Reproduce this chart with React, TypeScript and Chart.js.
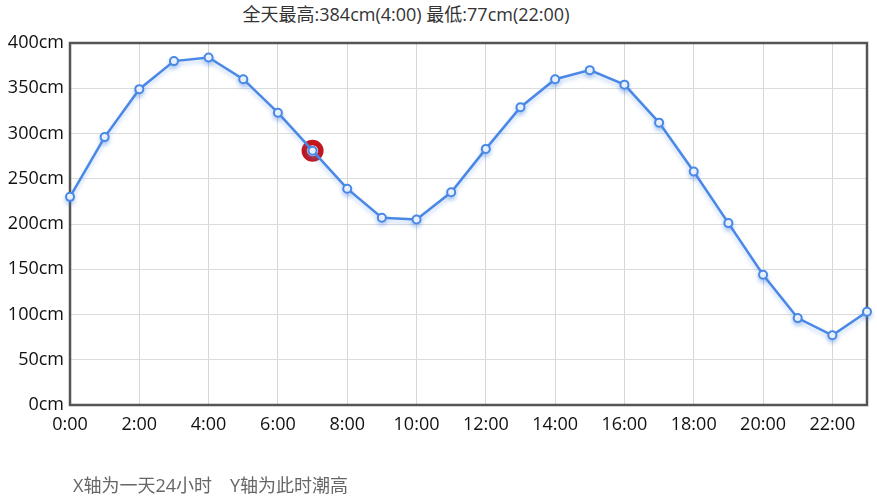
import React, { useEffect, useRef } from "react";
import { Chart, registerables } from "chart.js";

Chart.register(...registerables);

const hours: string[] = [
  "0:00", "1:00", "2:00", "3:00", "4:00", "5:00", "6:00", "7:00", "8:00", "9:00", "10:00", "11:00",
  "12:00", "13:00", "14:00", "15:00", "16:00", "17:00", "18:00", "19:00", "20:00", "21:00", "22:00", "23:00",
];
const tideHeights: number[] = [
  230, 296, 349, 380, 384, 360, 323, 281, 239, 207, 205, 235,
  283, 329, 360, 370, 354, 312, 258, 201, 144, 96, 77, 103,
];
const currentIndex = 7;
const yMin = 0;
const yMax = 400;
const yStep = 50;
const titleText = "全天最高:384cm(4:00) 最低:77cm(22:00)";
const footerText = "X轴为一天24小时　Y轴为此时潮高";

const FONT = "'Open Sans', 'Noto Sans CJK SC', sans-serif";
const LINE_BLUE = "#4a88e6";

const framePlugin = {
  id: "frame",
  beforeDatasetsDraw(chart: any) {
    const { ctx, chartArea } = chart;
    ctx.save();
    ctx.strokeStyle = "#555555";
    ctx.lineWidth = 2.5;
    ctx.strokeRect(chartArea.left, chartArea.top, chartArea.right - chartArea.left, chartArea.bottom - chartArea.top);
    ctx.restore();
  },
};

const shadowPlugin = {
  id: "lineShadow",
  beforeDatasetDraw(chart: any, args: any) {
    if (args.index !== 0) return;
    const ctx = chart.ctx;
    ctx.save();
    ctx.shadowColor = "rgba(74,136,230,0.35)";
    ctx.shadowBlur = 4;
    ctx.shadowOffsetY = 3;
  },
  afterDatasetDraw(chart: any, args: any) {
    if (args.index !== 0) return;
    chart.ctx.restore();
  },
};

export default function App() {
  const ref = useRef<HTMLCanvasElement | null>(null);

  useEffect(() => {
    if (!ref.current) return;
    const chart = new Chart(ref.current, {
      type: "line",
      data: {
        labels: hours,
        datasets: [
          {
            data: tideHeights,
            borderColor: LINE_BLUE,
            borderWidth: 2.5,
            pointRadius: 4,
            pointBorderWidth: 2,
            pointBorderColor: LINE_BLUE,
            pointBackgroundColor: "#ffffff",
            tension: 0,
            clip: false as any,
          },
          {
            data: tideHeights.map((v, i) => (i === currentIndex ? v : null)),
            showLine: false,
            pointRadius: 8.25,
            pointBorderWidth: 5.5,
            pointBorderColor: "#c3161d",
            pointBackgroundColor: "#ffffff",
            clip: false as any,
          },
        ],
      },
      options: {
        animation: false,
        responsive: false,
        devicePixelRatio: 1,
        layout: { autoPadding: false, padding: { top: 43, right: 10, left: 0, bottom: 65 } },
        plugins: {
          legend: { display: false },
          tooltip: { enabled: false },
          title: { display: false },
        },
        scales: {
          x: {
            offset: false,
            grid: { color: "#d6d6d6", lineWidth: 1, drawTicks: false },
            border: { display: false },
            ticks: {
              autoSkip: false,
              maxRotation: 0,
              padding: 9,
              color: "#111111",
              font: { family: FONT, size: 18 },
              callback: (_v: any, i: number) => (i % 2 === 0 ? hours[i] : null),
            },
            afterFit: (s: any) => {
              s.height = 30;
              s.paddingLeft = 0;
              s.paddingRight = 0;
            },
          },
          y: {
            min: yMin,
            max: yMax,
            grid: { color: "#dcdcdc", lineWidth: 1, drawTicks: false },
            border: { display: false },
            ticks: {
              stepSize: yStep,
              padding: 6,
              color: "#111111",
              font: { family: FONT, size: 18 },
              callback: (v: any) => `${v}cm`,
            },
            afterFit: (s: any) => {
              s.width = 70;
            },
          },
        },
      },
      plugins: [framePlugin, shadowPlugin],
    });
    return () => chart.destroy();
  }, []);

  return (
    <div style={{ position: "fixed", left: 0, top: 0, width: 877, height: 500, background: "#fff", fontFamily: FONT }}>
      <div
        style={{
          position: "absolute",
          left: 0,
          width: 812,
          top: 2,
          textAlign: "center",
          fontSize: 18,
          color: "#333",
          lineHeight: "24px",
          whiteSpace: "nowrap",
        }}
      >
        {titleText}
      </div>
      <canvas ref={ref} width={877} height={500} style={{ position: "absolute", left: 0, top: 0, width: 877, height: 500 }} />
      <div
        style={{
          position: "absolute",
          left: 73,
          top: 473,
          fontSize: 18,
          color: "#666",
          lineHeight: "24px",
          whiteSpace: "pre",
        }}
      >
        {footerText}
      </div>
    </div>
  );
}
